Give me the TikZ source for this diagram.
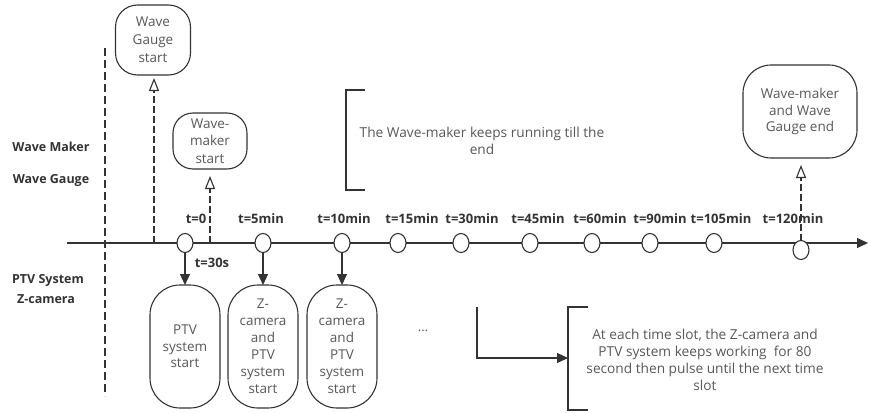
\documentclass[tikz,border=0pt]{standalone}
\usepackage{fontspec}
\setmainfont{Open Sans}
\usetikzlibrary{arrows.meta,shapes.geometric,calc}
\definecolor{ln}{HTML}{333333}
\definecolor{tx}{HTML}{595959}
\definecolor{lb}{HTML}{333333}
\begin{document}
\begin{tikzpicture}[x=1pt,y=-1pt,
  every node/.style={inner sep=0pt,outer sep=0pt},
  rbox/.style={draw=ln,line width=1.1pt,rounded corners=20pt,align=center,text=tx,font=\fontsize{13.5}{17}\selectfont},
  tslot/.style={draw=ln,fill=white,line width=1.1pt,ellipse,minimum width=16pt,minimum height=19pt},
  tlab/.style={text=lb,font=\fontsize{13}{14}\bfseries\selectfont},
  sidelab/.style={text=lb,font=\fontsize{12.5}{14}\bfseries\selectfont},
  note/.style={text=tx,align=center,font=\fontsize{13.7}{17}\selectfont},
  conn/.style={draw=ln,line width=1.1pt},
  solidarrow/.style={conn,-{Triangle[length=11pt,width=10pt]}},
  openarrow/.style={conn,dash pattern=on 7pt off 3pt,-{Triangle[open,length=13pt,width=10pt]}},
  brk/.style={draw=ln,line width=1.1pt}
]
\useasboundingbox[fill=white] (0,0) rectangle (869,412);

% dashed separator
\coordinate (sepT) at (105,48);
\coordinate (sepB) at (105,396);
\draw[conn,dash pattern=on 8pt off 4pt] (sepT) -- (sepB);

% side labels
\node[sidelab] (lWM) at (51,147) {Wave Maker};
\node[sidelab] (lWG) at (51,180) {Wave Gauge};
\node[sidelab] (lPTV) at (48,280) {PTV System};
\node[sidelab] (lZC) at (46,299) {Z-camera};

% timeline
\coordinate (tlS) at (67,243);
\coordinate (tlE) at (868,243);
\draw[solidarrow] (tlS) -- (tlE);

\coordinate (wgBase) at (154,243);
\coordinate (wmBase) at (210,243);

% top nodes
\node[rbox,rounded corners=22pt,minimum width=75pt,minimum height=70pt,font=\fontsize{13.5}{18}\selectfont] (wgs) at (153,40) {Wave\\Gauge\\start};
\node[rbox,rounded corners=20pt,minimum width=74pt,minimum height=56pt,font=\fontsize{13.5}{17.5}\selectfont] (wms) at (210,141) {Wave-\\maker\\start};
\node[rbox,rounded corners=28pt,minimum width=114pt,minimum height=93pt,font=\fontsize{13.5}{16.7}\selectfont] (wend) at (800,111.5) {Wave-maker\\and Wave\\Gauge end};

\draw[openarrow,shorten >=3pt] (wgBase) -- (wgBase |- wgs.south);
\draw[openarrow,shorten >=7pt] (wmBase) -- (wmBase |- wms.south);

% time slots
\node[tslot] (c0) at (185,243) {};
\node[tslot] (c5) at (263,243) {};
\node[tslot] (c10) at (342,243) {};
\node[tslot] (c15) at (398,243) {};
\node[tslot] (c30) at (461,243) {};
\node[tslot] (c45) at (530,243) {};
\node[tslot] (c60) at (592,243) {};
\node[tslot] (c90) at (650,243) {};
\node[tslot] (c105) at (714,243) {};
\node[tslot] (c120) at (801,250) {};

\draw[openarrow,shorten >=7pt] (c120.north) -- (c120.north |- wend.south);

% time labels
\node[tlab] (l0) at (196,219) {t=0};
\node[tlab] (l5) at (261,219) {t=5min};
\node[tlab] (l10) at (344,219) {t=10min};
\node[tlab] (l15) at (412,219) {t=15min};
\node[tlab] (l30) at (472,219) {t=30min};
\node[tlab] (l45) at (538,219) {t=45min};
\node[tlab] (l60) at (600,219) {t=60min};
\node[tlab] (l90) at (660,219) {t=90min};
\node[tlab] (l105) at (721,219) {t=105min};
\node[tlab] (l120) at (793,219) {t=120min};
\node[tlab] (l30s) at (212,263) {t=30s};

% bottom nodes
\node[rbox,rounded corners=30pt,minimum width=70pt,minimum height=123pt,font=\fontsize{13.5}{16.5}\selectfont] (ptv) at (185,346.5) {PTV\\system\\start};
\node[rbox,rounded corners=30pt,minimum width=70pt,minimum height=123pt,font=\fontsize{13.5}{17}\selectfont] (zc1) at (263,346.5) {Z-\\camera\\and\\PTV\\system\\start};
\node[rbox,rounded corners=30pt,minimum width=70pt,minimum height=123pt,font=\fontsize{13.5}{17}\selectfont] (zc2) at (342,346.5) {Z-\\camera\\and\\PTV\\system\\start};

\draw[solidarrow] (c0.south) -- (c0.south |- ptv.north);
\draw[solidarrow] (c5.south) -- (c5.south |- zc1.north);
\draw[solidarrow] (c10.south) -- (c10.south |- zc2.north);

\node[text=tx,font=\fontsize{13}{14}\selectfont] (dots) at (423,331) {...};

% top bracket note
\node[note] (runNote) at (482,141) {The Wave-maker keeps running till the\\end};
\coordinate (tbT) at (346,90);
\coordinate (tbB) at (346,190);
\draw[brk] ($(tbT)+(19,0)$) -- (tbT) -- (tbB) -- ($(tbB)+(19,0)$);

% bottom bracket note
\node[note] (slotNote) at (705,360) {At each time slot, the Z-camera and\\PTV system keeps working \ for 80\\second then pulse until the next time\\slot};
\coordinate (bbT) at (568,307);
\coordinate (bbM) at (568,358);
\coordinate (bbB) at (568,410);
\draw[brk] ($(bbT)+(20,0)$) -- (bbT) -- (bbB) -- ($(bbB)+(20,0)$);

\coordinate (elbow) at (477,307);
\draw[solidarrow] (elbow) |- (bbM);
\end{tikzpicture}
\end{document}
